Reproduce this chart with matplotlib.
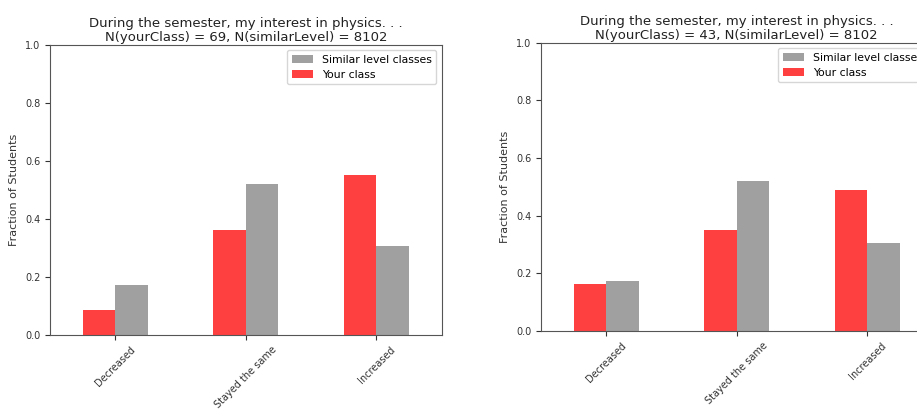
import matplotlib
matplotlib.use("Agg")
import matplotlib.pyplot as plt
import numpy as np

categories = ["Decreased", "Stayed the same", "Increased"]
similar_level = [0.172, 0.520, 0.305]
your_class_left = [0.087, 0.362, 0.551]
your_class_right = [0.163, 0.349, 0.488]
n_left = 69
n_right = 43
n_similar = 8102
title_base = "During the semester, my interest in physics. . ."

plt.rcParams['font.family'] = ['DejaVu Sans']

fig = plt.figure(figsize=(9.17, 4.12), dpi=100)
ax1 = fig.add_axes([0.0545, 0.187, 0.427, 0.704])
ax2 = fig.add_axes([0.590, 0.197, 0.427, 0.699])

x = np.arange(len(categories))
w = 0.25

for ax, yours, n in [(ax1, your_class_left, n_left), (ax2, your_class_right, n_right)]:
    ax.bar(x + w / 2, similar_level, w, color='gray', alpha=0.75, label='Similar level classes')
    ax.bar(x - w / 2, yours, w, color='red', alpha=0.75, label='Your class')
    ax.set_xlim(-0.5, 2.5)
    ax.set_ylim(0, 1.0)
    ax.set_xticks(x)
    ax.set_xticklabels(categories, rotation=45, fontsize=7)
    ax.tick_params(axis='y', labelsize=7, colors='#333333')
    ax.tick_params(axis='x', colors='#333333')
    ax.set_ylabel("Fraction of Students", fontsize=8, color='#333333')
    ax.set_title(f"{title_base}\nN(yourClass) = {n}, N(similarLevel) = {n_similar}",
                 fontsize=9.5, color='#222222', pad=3, linespacing=1.1)
    for s in ax.spines.values():
        s.set_color('#555555')
    ax.legend(loc='upper right', fontsize=7.8)

fig.savefig("out.png", dpi=100)
